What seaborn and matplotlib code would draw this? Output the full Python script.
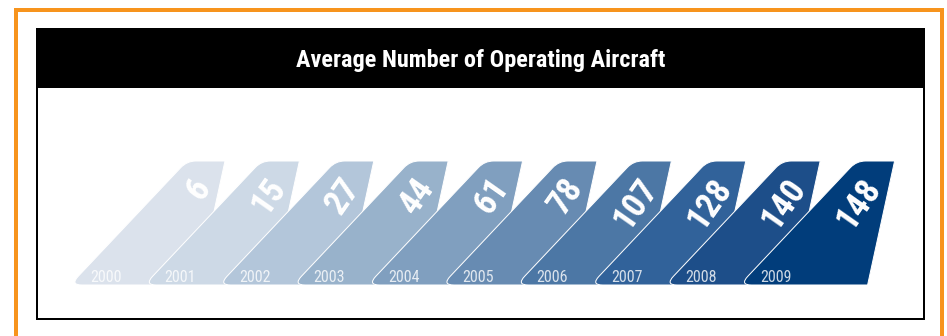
import matplotlib
matplotlib.use("Agg")
import matplotlib.pyplot as plt
from matplotlib import font_manager
from matplotlib.path import Path
from matplotlib.patches import PathPatch, Rectangle
import numpy as np
import seaborn as sns

# ---- data -------------------------------------------------------------
years = [2000, 2001, 2002, 2003, 2004, 2005, 2006, 2007, 2008, 2009]
aircraft = [6, 15, 27, 44, 61, 78, 107, 128, 140, 148]
title = "Average Number of Operating Aircraft"
tail_colors = ["#dbe2ec", "#cdd9e6", "#b3c6da", "#98b2cb", "#809fbf",
               "#678bb2", "#4c77a5", "#31629a", "#1d4e89", "#013d7b"]

# ---- style ------------------------------------------------------------
sns.set_theme(style="white")
available = {f.name for f in font_manager.fontManager.ttflist}
narrow = next((n for n in ["Liberation Sans Narrow", "DejaVu Sans Condensed",
                           "Roboto Condensed", "Open Sans Condensed"]
               if n in available), "DejaVu Sans")
plt.rcParams["font.family"] = [narrow, "DejaVu Sans"]
palette = sns.color_palette(tail_colors)

W, H = 947, 336
fig = plt.figure(figsize=(W / 100, H / 100), dpi=100)
fig.patch.set_facecolor("white")
PT = 72 / 100  # points per pixel


def fig_rect(left, top, right, bottom):
    """Figure-fraction rectangle from pixel edges measured from the top-left."""
    return (left / W, 1 - bottom / H, (right - left) / W, (bottom - top) / H)


# orange outer frame (runs off the bottom of the canvas)
l, b, w, h = fig_rect(16, 10, 941.5, 360)
fig.patches.append(Rectangle((l, b), w, h, transform=fig.transFigure,
                             fill=False, edgecolor="#f7941d", lw=4 * PT,
                             zorder=-3))
# black-bordered panel with a black title band
l, b, w, h = fig_rect(37, 29, 924, 319)
fig.patches.append(Rectangle((l, b), w, h, transform=fig.transFigure,
                             facecolor="white", edgecolor="black", lw=2 * PT,
                             zorder=-2))
l, b, w, h = fig_rect(37, 29, 924, 87)
fig.patches.append(Rectangle((l, b), w, h, transform=fig.transFigure,
                             facecolor="black", edgecolor="black", lw=1 * PT,
                             zorder=-1))
fig.text(481 / W, 1 - 60 / H, title, color="white", fontsize=17.5,
         fontweight="bold", ha="center", va="center", zorder=3)

# ---- tail chart -------------------------------------------------------
ax_l, ax_t, ax_r, ax_b = 38, 88, 923, 318
ax = fig.add_axes(fig_rect(ax_l, ax_t, ax_r, ax_b))
ax.set_zorder(5)
ax.set_axis_off()
ax.patch.set_alpha(0)

step_px = 74.4      # pixels between consecutive years
height_px = 124.0   # pixels for one unit of tail height
base_px = 285.0     # pixel row of the tails' baseline
first_px = 187.0    # pixel column of the first tail's top-left corner
xmin = years[0] - (first_px - ax_l) / step_px
ax.set_xlim(xmin, xmin + (ax_r - ax_l) / step_px)
ax.set_ylim(-(ax_b - base_px) / height_px, (base_px - ax_t) / height_px)

# tail outline in pixel offsets from the top-left corner / baseline
outline = [(-117, 0), (0, height_px), (38, height_px), (11, 0)]
round_r = {0: 12.0, 1: 9.0}  # corner index -> radius (px)


def tail_path(x_year):
    pts = [np.array(p, float) for p in outline]
    verts, codes = [], []
    n = len(pts)
    for i, p in enumerate(pts):
        if i in round_r:
            prev_p, next_p = pts[i - 1], pts[(i + 1) % n]
            r = round_r[i]
            a = p + r * (prev_p - p) / np.linalg.norm(prev_p - p)
            c = p + r * (next_p - p) / np.linalg.norm(next_p - p)
            seq = [(a, Path.LINETO), (p, Path.CURVE3), (c, Path.CURVE3)]
        else:
            seq = [(p, Path.LINETO)]
        for v, code in seq:
            verts.append(v)
            codes.append(code)
    codes[0] = Path.MOVETO
    verts.append(verts[0])
    codes.append(Path.CLOSEPOLY)
    data = [(x_year + v[0] / step_px, v[1] / height_px) for v in verts]
    return Path(data, codes)


for i, (yr, val) in enumerate(zip(years, aircraft)):
    ax.add_patch(PathPatch(tail_path(yr), facecolor=palette[i],
                           edgecolor="white", lw=1.0 * PT, zorder=2 + i))
    ax.text(yr + 17 / step_px, (base_px - 182) / height_px, str(val),
            color="white", fontsize=25, fontweight="bold", rotation=55,
            rotation_mode="anchor", ha="right", va="center", zorder=30)
    ax.text(yr - 81 / step_px, (base_px - 277) / height_px, str(yr),
            color="white", alpha=0.8, fontsize=11.5, ha="center",
            va="center", zorder=30)

fig.savefig("out.png", dpi=100, facecolor="white")
